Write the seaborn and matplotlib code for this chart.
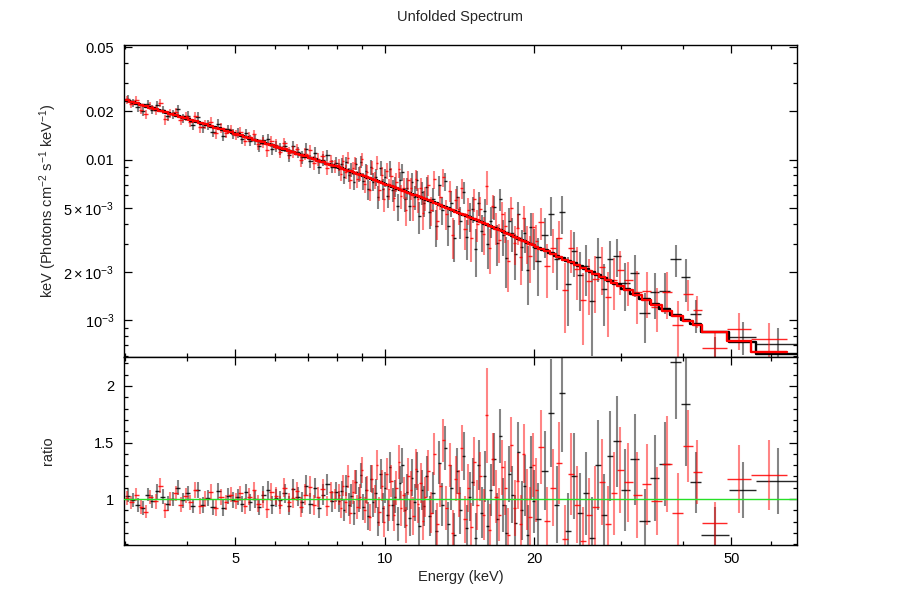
import numpy as np
import pandas as pd
import matplotlib
matplotlib.use("Agg")
import matplotlib.pyplot as plt
import seaborn as sns
from matplotlib.ticker import FixedLocator, FixedFormatter, NullFormatter

# ---------------- data ----------------
# model (keV * unfolded flux), log10 values at anchor energies
model_energy = [3.0, 5.0, 7.0, 9.0, 12.0, 16.0, 20.0, 25.0, 30.0, 36.0, 42.0, 50.0, 60.0, 70.0]
model_logflux = [-1.627, -1.838, -1.984, -2.098, -2.242, -2.401, -2.535, -2.67, -2.79,
                 -2.92, -3.02, -3.11, -3.20, -3.25]

# black data group: contiguous energy bin edges (keV), data/model ratio, 1-sigma error
black_edges = [3.00, 3.07, 3.14, 3.21, 3.29, 3.36, 3.44, 3.52, 3.61, 3.69, 3.78, 3.87, 3.96, 4.05,
               4.15, 4.25, 4.35, 4.45, 4.56, 4.67, 4.78, 4.89, 5.00,
               5.10, 5.20, 5.31, 5.41, 5.52, 5.63, 5.75, 5.86, 5.98, 6.10, 6.22, 6.35, 6.47, 6.60,
               6.74, 6.87, 7.01, 7.15, 7.29, 7.44, 7.59, 7.74, 7.90, 8.05,
               8.14, 8.23, 8.32, 8.42, 8.51, 8.61, 8.71, 8.81, 8.91, 9.01, 9.11, 9.21, 9.32, 9.42,
               9.53, 9.64, 9.75, 9.86, 9.97, 10.08, 10.20, 10.31, 10.43, 10.55, 10.67, 10.79,
               10.91, 11.04, 11.16, 11.29, 11.42, 11.55, 11.68, 11.81, 11.94, 12.08,
               12.25, 12.42, 12.60, 12.78, 12.96, 13.15, 13.33, 13.52, 13.72, 13.91, 14.11, 14.31,
               14.52, 14.72, 14.93, 15.15, 15.36, 15.58, 15.80, 16.03, 16.26, 16.49, 16.73, 16.97,
               17.21, 17.45, 17.70, 17.96, 18.21, 18.47, 18.74, 19.01, 19.28, 19.55, 19.83, 20.12,
               20.7, 21.3, 21.9, 22.5, 23.1, 23.7, 24.4, 25.1, 25.8, 26.5, 27.3, 28.1, 28.9, 29.9,
               31.2, 32.6, 34.2, 35.8, 37.6, 39.6, 41.3, 43.4,
               49.4, 56.0, 68.0]
black_ratio = [1.03, 0.99, 0.95, 0.92, 1.04, 0.98, 1.07, 1.02, 0.96, 1.00, 1.10, 0.99, 1.05, 0.94,
               1.08, 0.95, 1.01, 0.93, 1.07, 0.92, 1.03, 0.99,
               1.02, 0.96, 1.06, 0.97, 1.00, 0.93, 1.04, 1.08, 0.95, 1.01, 0.99, 1.05, 0.94, 1.09,
               1.02, 0.97, 1.12, 0.96, 1.10, 0.92, 1.04, 1.13, 0.98, 1.06,
               0.98, 1.07, 0.90, 1.12, 0.95, 1.03, 0.88, 1.15, 1.00, 1.21, 0.93, 1.08, 0.85, 1.18,
               0.97, 1.05, 0.80, 1.22, 0.92, 1.10, 0.86, 1.28, 0.95, 1.02, 0.78, 1.14, 1.30, 0.90,
               1.06, 0.83, 1.19, 0.97, 1.25, 0.76, 1.08, 0.94,
               1.20, 0.85, 1.05, 0.72, 1.32, 0.95, 1.45, 0.78, 1.10, 0.68, 1.25, 0.90, 1.38, 0.74,
               1.02, 1.15, 0.66, 1.30, 0.88, 1.20, 0.76, 1.08, 1.35, 0.82, 1.56, 0.95, 0.70, 1.22,
               1.04, 0.79, 1.42, 0.90, 1.12, 0.68, 1.28, 0.98,
               0.82, 1.25, 1.76, 0.95, 1.94, 0.72, 1.20, 0.88, 1.05, 0.66, 1.30, 0.86, 1.38, 1.51,
               1.08, 1.35, 0.81, 1.19, 1.31, 2.21, 1.84, 1.15,
               0.68, 1.08, 1.16]
black_err = [0.06, 0.06, 0.06, 0.06, 0.06, 0.06, 0.065, 0.065, 0.065, 0.065, 0.065, 0.065, 0.065,
             0.065, 0.07, 0.07, 0.07, 0.07, 0.07, 0.07, 0.07, 0.07,
             0.07, 0.07, 0.07, 0.075, 0.075, 0.075, 0.075, 0.08, 0.08, 0.08, 0.08, 0.085, 0.085,
             0.085, 0.085, 0.09, 0.09, 0.09, 0.09, 0.09, 0.09, 0.09, 0.09, 0.09,
             0.09, 0.09, 0.095, 0.095, 0.10, 0.10, 0.105, 0.105, 0.11, 0.11, 0.115, 0.115, 0.12,
             0.12, 0.125, 0.125, 0.13, 0.13, 0.135, 0.135, 0.14, 0.14, 0.145, 0.145, 0.15, 0.15,
             0.155, 0.155, 0.16, 0.16, 0.165, 0.165, 0.17, 0.17, 0.175, 0.175,
             0.18, 0.18, 0.185, 0.185, 0.19, 0.19, 0.195, 0.195, 0.20, 0.20, 0.205, 0.205, 0.21,
             0.21, 0.215, 0.215, 0.22, 0.22, 0.225, 0.225, 0.23, 0.23, 0.235, 0.235, 0.24, 0.24,
             0.245, 0.245, 0.25, 0.25, 0.26, 0.26, 0.27, 0.27, 0.28, 0.28,
             0.32, 0.35, 0.48, 0.34, 0.52, 0.33, 0.38, 0.35, 0.37, 0.36, 0.40, 0.36, 0.40, 0.40,
             0.36, 0.40, 0.28, 0.38, 0.37, 0.50, 0.55, 0.27,
             0.25, 0.25, 0.29]

# red data group
red_edges = [3.00, 3.05, 3.12, 3.19, 3.26, 3.33, 3.41, 3.49, 3.57, 3.65, 3.74, 3.83, 3.92, 4.01,
             4.10, 4.20, 4.30, 4.40, 4.51, 4.62, 4.73, 4.84, 4.95,
             5.06, 5.17, 5.28, 5.39, 5.50, 5.62, 5.73, 5.85, 5.97, 6.09, 6.21, 6.34, 6.46, 6.59,
             6.72, 6.85, 6.99, 7.13, 7.27, 7.42, 7.57, 7.72, 7.87, 8.03,
             8.11, 8.20, 8.29, 8.38, 8.47, 8.57, 8.66, 8.76, 8.86, 8.96, 9.06, 9.16, 9.27, 9.37,
             9.48, 9.59, 9.70, 9.81, 9.92, 10.03, 10.14, 10.26, 10.37, 10.49, 10.61, 10.73,
             10.85, 10.98, 11.10, 11.23, 11.36, 11.49, 11.62, 11.75, 11.88, 12.01, 12.15,
             12.32, 12.49, 12.67, 12.85, 13.04, 13.22, 13.41, 13.61, 13.80, 14.00, 14.21, 14.41,
             14.62, 14.83, 15.05, 15.26, 15.48, 15.71, 15.94, 16.17, 16.40, 16.64, 16.88, 17.13,
             17.38, 17.63, 17.88, 18.14, 18.40, 18.67, 18.94, 19.21, 19.49, 19.77, 20.06, 20.35,
             20.95, 21.55, 22.15, 22.8, 23.45, 24.1, 24.8, 25.5, 26.2, 27.0, 27.8, 28.6, 29.4, 30.3,
             31.6, 33.0, 34.5, 36.2, 38.0, 40.0, 41.8, 43.6,
             49.0, 54.7, 64.6]
red_ratio = [1.01, 0.97, 1.04, 0.93, 0.89, 1.02, 0.98, 1.12, 0.90, 1.00, 1.05, 0.95, 1.03, 0.97,
             1.08, 0.94, 1.00, 1.06, 0.92, 1.02, 0.97, 1.04,
             0.98, 1.05, 0.94, 1.02, 1.08, 0.96, 1.00, 0.91, 1.06, 1.03, 0.95, 1.10, 0.97, 1.01,
             1.07, 0.93, 1.04, 1.11, 0.95, 1.02, 1.09, 0.94, 1.06, 1.00,
             1.04, 0.92, 1.12, 0.97, 1.20, 0.88, 1.06, 1.15, 0.93, 1.02, 1.26, 0.90, 1.08, 0.84,
             1.18, 1.00, 1.30, 0.89, 1.12, 0.80, 1.22, 0.95, 1.16, 0.86, 1.10, 1.33, 0.92, 1.04,
             0.77, 1.20, 1.08, 0.85, 1.27, 0.96, 1.14, 0.81, 1.02,
             1.25, 0.88, 1.40, 0.78, 1.12, 1.52, 0.92, 1.30, 0.70, 1.18, 1.05, 1.45, 0.82, 1.10,
             0.75, 1.33, 0.95, 1.20, 0.86, 1.74, 0.73, 1.35, 1.02, 0.86, 1.28, 1.10, 0.68, 1.48,
             0.92, 1.16, 0.78, 1.40, 1.00, 0.84, 1.30, 1.08,
             1.46, 0.81, 1.10, 1.32, 0.65, 1.22, 0.95, 0.63, 0.86, 0.93, 1.15, 0.78, 1.05, 1.26,
             1.15, 1.04, 1.13, 0.98, 1.31, 0.88, 1.47, 1.24,
             0.785, 1.18, 1.21]
red_err = [0.06, 0.06, 0.06, 0.06, 0.06, 0.06, 0.065, 0.065, 0.065, 0.065, 0.065, 0.065, 0.065,
           0.065, 0.07, 0.07, 0.07, 0.07, 0.07, 0.07, 0.07, 0.07,
           0.07, 0.07, 0.07, 0.075, 0.075, 0.075, 0.075, 0.08, 0.08, 0.08, 0.08, 0.085, 0.085,
           0.085, 0.085, 0.09, 0.09, 0.09, 0.09, 0.09, 0.09, 0.09, 0.09, 0.09,
           0.09, 0.09, 0.095, 0.095, 0.10, 0.10, 0.105, 0.105, 0.11, 0.11, 0.115, 0.115, 0.12,
           0.12, 0.125, 0.125, 0.13, 0.13, 0.135, 0.135, 0.14, 0.14, 0.145, 0.145, 0.15, 0.15,
           0.155, 0.155, 0.16, 0.16, 0.165, 0.165, 0.17, 0.17, 0.175, 0.175, 0.175,
           0.18, 0.18, 0.185, 0.185, 0.19, 0.19, 0.195, 0.195, 0.20, 0.20, 0.205, 0.205, 0.21,
           0.21, 0.215, 0.215, 0.22, 0.22, 0.225, 0.42, 0.23, 0.23, 0.235, 0.235, 0.24, 0.24,
           0.245, 0.245, 0.25, 0.25, 0.26, 0.26, 0.27, 0.27, 0.28, 0.28,
           0.33, 0.30, 0.34, 0.36, 0.30, 0.36, 0.34, 0.30, 0.33, 0.36, 0.38, 0.34, 0.37, 0.38,
           0.35, 0.38, 0.36, 0.30, 0.42, 0.35, 0.32, 0.28,
           0.19, 0.30, 0.31]

x_major = [5, 10, 20, 50]
x_major_labels = ["5", "10", "20", "50"]
x_minor = [3, 4, 6, 7, 8, 9, 30, 40, 60]
top_major = [1e-3, 2e-3, 5e-3, 0.01, 0.02, 0.05]
top_major_labels = [r"$10^{-3}$", r"$2\times10^{-3}$", r"$5\times10^{-3}$", "0.01", "0.02", "0.05"]
top_minor = [6e-4, 7e-4, 8e-4, 9e-4, 3e-3, 4e-3, 6e-3, 7e-3, 8e-3, 9e-3, 0.03, 0.04]
bot_major = [1.0, 1.5, 2.0]
bot_major_labels = ["1", "1.5", "2"]
bot_minor = [0.6, 0.7, 0.8, 0.9, 1.1, 1.2, 1.3, 1.4, 1.6, 1.7, 1.8, 1.9, 2.1, 2.2]

# ---------------- styling ----------------
sns.set_theme(style="ticks")
plt.rcParams["font.family"] = ["Liberation Sans", "DejaVu Sans"]
plt.rcParams["mathtext.fontset"] = "custom"
plt.rcParams["mathtext.rm"] = "Liberation Sans"
plt.rcParams["mathtext.it"] = "Liberation Sans:italic"
plt.rcParams["mathtext.bf"] = "Liberation Sans:bold"
FS = 10.5


def model_at(e):
    return 10 ** np.interp(np.log10(e), np.log10(model_energy), model_logflux)


fig = plt.figure(figsize=(9.03, 6.06), dpi=100)
W, H = 903.0, 606.0
L, R = 124, 797
ax1 = fig.add_axes([L / W, 1 - 357 / H, (R - L) / W, (357 - 45) / H])
ax2 = fig.add_axes([L / W, 1 - 545 / H, (R - L) / W, (545 - 357) / H], sharex=ax1)

groups = [(black_edges, black_ratio, black_err, (0, 0, 0)),
          (red_edges, red_ratio, red_err, (1, 0, 0))]

for edges, ratio, err, col in groups:
    ed = np.array(edges)
    lo, hi = ed[:-1], ed[1:]
    cen = 0.5 * (lo + hi)
    mod = model_at(cen)
    r = np.array(ratio)
    e = np.array(err)
    # top panel: unfolded = ratio * model
    ax1.vlines(cen, (r - e) * mod, (r + e) * mod, color=col, alpha=0.48, lw=1.5)
    ax1.hlines(r * mod, lo, hi, color=col, alpha=0.85, lw=1.0)
    # bottom panel: ratio
    ax2.vlines(cen, r - e, r + e, color=col, alpha=0.48, lw=1.5)
    ax2.hlines(r, lo, hi, color=col, alpha=0.85, lw=1.0)

# model step lines
for edges, ratio, err, col in groups:
    ed = np.array(edges)
    cen = 0.5 * (ed[:-1] + ed[1:])
    mod = model_at(cen)
    df = pd.DataFrame({"E": ed, "F": np.append(mod, mod[-1])})
    sns.lineplot(data=df, x="E", y="F", ax=ax1, color=col, lw=1.7, drawstyle="steps-post",
                 estimator=None, sort=False, legend=False)

ax2.axhline(1.0, color="#27e027", lw=1.0, zorder=5)

ax1.set_xscale("log")
ax1.set_yscale("log")
ax1.set_xlim(2.98, 67.8)
ax1.set_ylim(5.9e-4, 0.0518)
ax2.set_ylim(0.594, 2.256)

ax2.xaxis.set_major_locator(FixedLocator(x_major))
ax2.xaxis.set_major_formatter(FixedFormatter(x_major_labels))
ax2.xaxis.set_minor_locator(FixedLocator(x_minor))
ax2.xaxis.set_minor_formatter(NullFormatter())

ax1.yaxis.set_major_locator(FixedLocator(top_major))
ax1.yaxis.set_major_formatter(FixedFormatter(top_major_labels))
ax1.yaxis.set_minor_locator(FixedLocator(top_minor))
ax1.yaxis.set_minor_formatter(NullFormatter())

ax2.yaxis.set_major_locator(FixedLocator(bot_major))
ax2.yaxis.set_major_formatter(FixedFormatter(bot_major_labels))
ax2.yaxis.set_minor_locator(FixedLocator(bot_minor))
ax2.yaxis.set_minor_formatter(NullFormatter())

for ax in (ax1, ax2):
    ax.tick_params(which="both", direction="in", top=True, right=True, bottom=True, left=True,
                   colors="black", labelsize=FS, width=0.9)
    ax.tick_params(which="major", length=6)
    ax.tick_params(which="minor", length=3.2)
    ax.tick_params(axis="y", pad=7)
    ax.tick_params(axis="x", pad=5)
    for s in ax.spines.values():
        s.set_visible(True)
        s.set_color("black")
        s.set_linewidth(1.0)
    ax.set_facecolor("white")

ax1.tick_params(labelbottom=False)
ax1.set_xlabel("")

ax1.set_ylabel(r"keV (Photons cm$^{-2}$ s$^{-1}$ keV$^{-1}$)", fontsize=FS)
ax1.yaxis.label.set_va("center")
ax1.yaxis.set_label_coords((48 - L) / (R - L), 0.5)

ax2.set_ylabel("ratio", fontsize=FS)
ax2.yaxis.label.set_va("center")
ax2.yaxis.set_label_coords((48 - L) / (R - L), 0.5)

ax2.set_xlabel("Energy (keV)", fontsize=FS)
ax2.xaxis.label.set_va("center")
ax2.xaxis.set_label_coords(0.5, (545 - 577) / (545 - 357))

fig.text((L + R) / 2 / W, 1 - 17 / H, "Unfolded Spectrum", ha="center", va="center", fontsize=FS)

fig.savefig("out.png", dpi=100, facecolor="white")
